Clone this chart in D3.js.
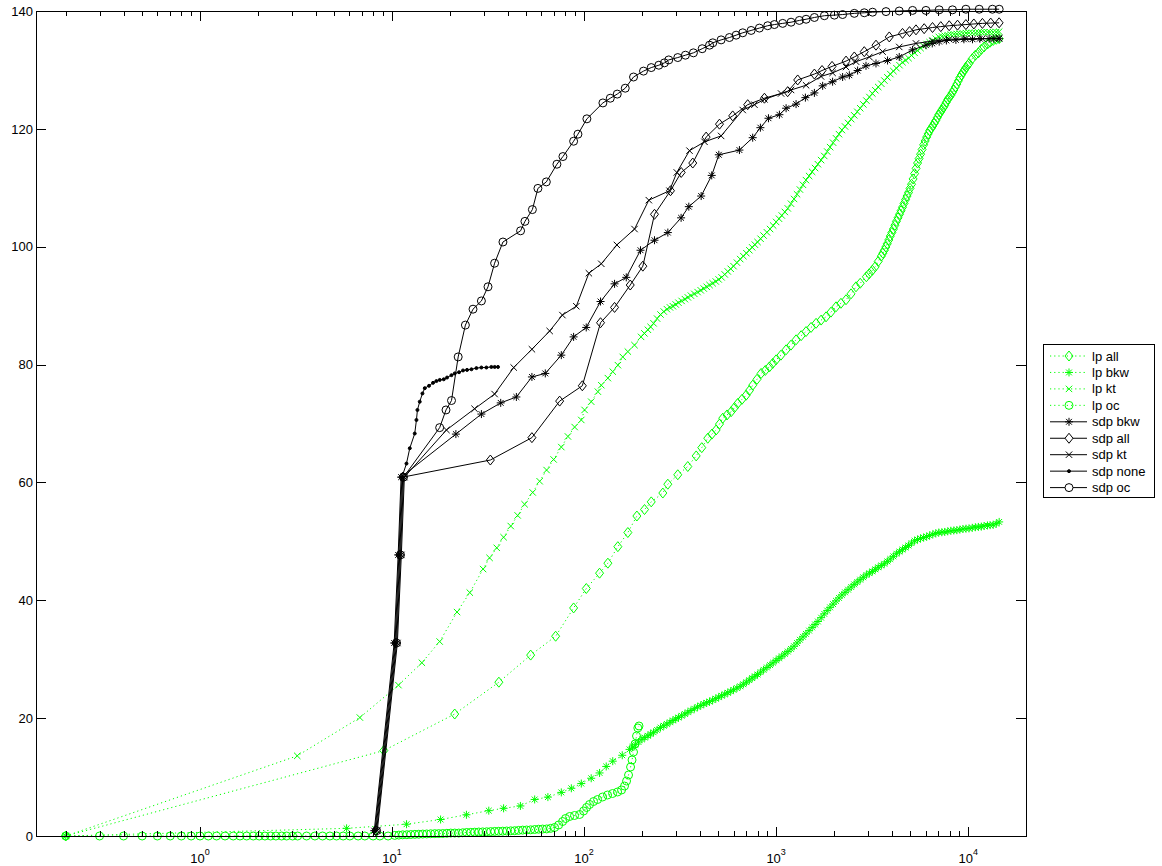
<!DOCTYPE html>
<html>
<head>
<meta charset="utf-8">
<script src="https://cdn.jsdelivr.net/npm/d3@7"></script>
<style>
  body { margin: 0; background: #fff; }
  svg { display: block; font-family: "Liberation Sans", Arial, Helvetica, sans-serif; }
</style>
</head>
<body>
<div id="chart"></div>
<script>
// ---- data: [x, value] pairs ----
const lpAll = [[0.2,0],[9.06,14.5],[21.2,20.7],[36.0,26.1],[52.7,30.7],[71.1,33.9],[88.2,38.7],[102.7,42.0],[120.4,44.6],[133.0,46.3],
  [149.9,49.1],[169.0,51.5],[188.3,54.3],[206.4,55.4],[223.7,56.7],[257,58.2],[272.9,59.7],[307.5,61.3],[346.7,62.7],[383.4,64.5],
  [410,65.9],[440.6,67.5],[463,68.2],[487.1,68.9],[507,69.9],[527.2,70.9],[555,71.45],[583.2,72.0],[607,72.7],[631,73.4],
  [664,74.1],[697.9,74.8],[726,75.6],[755.1,76.5],[795,77.5],[835.2,78.5],[878,79.0],[922.5,79.6],[960,80.2],[999.4,80.8],
  [1060,81.6],[1126,82.5],[1195,83.3],[1270,84.2],[1350,84.9],[1431,85.6],[1520,86.3],[1614,87.0],[1715,87.55],[1819,88.1],
  [1930,88.9],[2050,89.8],[2175,90.4],[2311,91.0],[2455,92.0],[2605,93.2],[2740,93.8],[2950,94.9],[3050,95.4],[3170,96.0],
  [3280,96.6],[3400,97.5],[3530,98.4],[3595,98.9],[3660,99.4],[3725,99.95],[3790,100.5],[3860,101.15],[3930,101.8],[4005,102.4],
  [4080,103.0],[4155,103.65],[4230,104.3],[4310,104.9],[4390,105.5],[4470,106.1],[4550,106.7],[4635,107.35],[4720,108.0],[4805,108.6],
  [4890,109.2],[4980,109.9],[5070,110.6],[5165,111.5],[5260,112.4],[5355,113.3],[5450,114.2],[5550,114.95],[5650,115.7],[5755,116.5],
  [5860,117.3],[5970,117.95],[6080,118.6],[6190,119.15],[6300,119.7],[6420,120.1],[6540,120.5],[6660,120.95],[6780,121.4],[6905,121.9],
  [7030,122.4],[7160,122.8],[7290,123.2],[7420,123.6],[7550,124.0],[7690,124.5],[7830,125.0],[7975,125.35],[8120,125.7],[8270,126.15],
  [8420,126.6],[8575,127.1],[8730,127.6],[8890,128.15],[9050,128.7],[9220,129.15],[9390,129.6],[9565,130.0],[9740,130.4],[9920,130.75],
  [10100,131.1],[10500,131.9],[10900,132.5],[11300,132.9],[11700,133.5],[12100,133.9],[12600,134.4],[13000,134.7],[13500,135.0],[14000,135.2],
  [14500,135.3]];

const lpBkw = [[0.2,0],[5.8,1.3],[11.9,2.0],[17.9,2.8],[24.4,3.6],[31.9,4.3],[38.1,4.7],[46.6,5.1],[55.3,6.2],[64.8,6.6],
  [76.1,7.4],[85.8,8.1],[96.7,8.9],[108.9,9.8],[120.4,10.7],[130.4,11.8],[141,12.7],[158,13.7],[172.5,14.7],[178.5,15.1],
  [185,15.5],[192,15.95],[200,16.4],[207,16.7],[215,17.0],[222,17.3],[230,17.6],[240,18.0],[250,18.4],[260,18.7],
  [270,19.0],[280,19.3],[290,19.6],[300,19.85],[310,20.1],[322,20.4],[335,20.7],[347,21.0],[360,21.3],[375,21.6],
  [390,21.9],[405,22.15],[420,22.4],[435,22.6],[450,22.8],[467,23.05],[485,23.3],[502,23.55],[520,23.8],[540,24.05],
  [560,24.3],[580,24.55],[600,24.8],[625,25.1],[650,25.4],[675,25.75],[700,26.1],[725,26.45],[750,26.8],[775,27.1],
  [800,27.4],[830,27.8],[860,28.2],[895,28.6],[930,29.0],[965,29.4],[1000,29.8],[1035,30.15],[1070,30.5],[1110,30.9],
  [1150,31.3],[1195,31.75],[1240,32.2],[1285,32.75],[1330,33.3],[1380,33.8],[1430,34.3],[1485,34.85],[1540,35.4],[1595,35.9],
  [1650,36.4],[1715,37.05],[1780,37.7],[1845,38.25],[1910,38.8],[1980,39.35],[2050,39.9],[2125,40.4],[2200,40.9],[2285,41.35],
  [2370,41.8],[2460,42.25],[2550,42.7],[2645,43.1],[2740,43.5],[2845,43.9],[2950,44.3],[3060,44.6],[3170,44.9],[3285,45.25],
  [3400,45.6],[3530,45.9],[3660,46.2],[3795,46.6],[3930,47.0],[4080,47.45],[4230,47.9],[4390,48.25],[4550,48.6],[4720,48.95],
  [4890,49.3],[5070,49.7],[5260,50.1],[5450,50.3],[5650,50.5],[5860,50.65],[6080,50.8],[6300,51.0],[6540,51.2],[6780,51.35],
  [7030,51.5],[7290,51.55],[7550,51.6],[7830,51.7],[8120,51.8],[8420,51.85],[8730,51.9],[9050,52.0],[9390,52.1],[9740,52.15],
  [10100,52.2],[10500,52.3],[10900,52.4],[11300,52.45],[11700,52.5],[12100,52.6],[12600,52.7],[13000,52.75],[13500,52.8],[14000,53.0],
  [14500,53.3]];

const lpKt = [[0.2,0],[3.21,13.6],[6.8,20.1],[10.8,25.6],[14.3,29.4],[17.7,33.0],[21.8,38.0],[25.4,41.3],[29.8,45.3],[32.2,47.2],
  [35.1,48.9],[38.1,50.7],[41.5,52.6],[45.1,54.4],[49.0,56.3],[54.0,58.3],[58.7,60.2],[63.8,62.1],[69.4,63.9],[76.1,66.0],
  [82.4,67.8],[89.3,69.4],[96.7,70.6],[100.6,72.3],[108.9,73.7],[118,75.4],[122.9,76.5],[133,77.7],[141,78.8],[150,79.9],
  [159,81.3],[169,82.2],[183,83.3],[198,84.7],[206,85.3],[215,85.9],[222,86.4],[230,87.0],[240,87.8],[250,88.5],
  [260,89.0],[270,89.4],[280,89.7],[290,89.9],[300,90.2],[310,90.5],[322,90.8],[335,91.1],[347,91.4],[360,91.7],
  [375,92.0],[390,92.3],[405,92.6],[420,92.9],[435,93.2],[450,93.5],[467,93.8],[485,94.1],[502,94.45],[520,94.8],
  [540,95.3],[560,95.8],[580,96.25],[600,96.7],[625,97.3],[650,97.9],[675,98.4],[700,98.9],[725,99.4],[750,99.9],
  [775,100.35],[800,100.8],[830,101.35],[860,101.9],[895,102.45],[930,103.0],[965,103.6],[1000,104.2],[1035,104.75],[1070,105.3],
  [1110,105.9],[1150,106.5],[1195,107.3],[1240,108.1],[1285,108.9],[1330,109.7],[1380,110.5],[1430,111.3],[1485,112.0],[1540,112.7],
  [1595,113.35],[1650,114.0],[1715,114.7],[1780,115.4],[1845,116.15],[1910,116.9],[1980,117.65],[2050,118.4],[2125,119.1],[2200,119.8],
  [2285,120.4],[2370,121.0],[2460,121.65],[2550,122.3],[2645,122.9],[2740,123.5],[2845,124.15],[2950,124.8],[3060,125.4],[3170,126.0],
  [3285,126.55],[3400,127.1],[3530,127.65],[3660,128.2],[3795,128.75],[3930,129.3],[4080,129.8],[4230,130.3],[4390,130.8],[4550,131.3],
  [4720,131.65],[4890,132.0],[5070,132.45],[5260,132.9],[5450,133.3],[5650,133.7],[5860,134.05],[6080,134.4],[6300,134.7],[6540,135.0],
  [6780,135.3],[7030,135.6],[7290,135.7],[7550,135.8],[7830,135.9],[8120,136.0],[8420,136.05],[8730,136.1],[9050,136.15],[9390,136.2],
  [9740,136.25],[10100,136.3],[10500,136.3],[10900,136.3],[11300,136.35],[11700,136.4],[12100,136.4],[12600,136.4],[13000,136.4],[13500,136.4],
  [14000,136.45],[14500,136.5]];

const lpOc = [[0.2,0],[0.3,0],[0.4,0],[0.5,0],[0.6,0],[0.7,0],[0.8,0],[0.9,0],[1.0,0],[1.105,0],
  [1.22,0],[1.35,0],[1.49,0],[1.615,0],[1.75,0],[1.894,0],[2.035,0],[2.178,0],[2.332,0],[2.485,0],
  [2.661,0],[2.825,0],[3.035,0],[3.223,0],[3.589,0],[3.966,0],[4.347,0],[4.746,0],[5.14,0],[5.566,0],
  [6.028,0],[6.66,0],[7.216,0],[7.97,0],[8.638,0],[9.539,0],[10.33,0.1],[10.85,0.15],[11.37,0.2],[11.95,0.22],
  [12.52,0.25],[13.15,0.28],[13.78,0.3],[14.45,0.33],[15.16,0.35],[15.9,0.38],[16.69,0.4],[17.5,0.41],[18.37,0.42],[19.3,0.46],
  [20.21,0.5],[21.2,0.5],[22.25,0.5],[23.35,0.55],[24.48,0.6],[25.7,0.62],[26.94,0.65],[28.3,0.68],[29.65,0.7],[31.1,0.72],
  [32.63,0.75],[34.25,0.78],[35.92,0.8],[37.7,0.82],[39.53,0.85],[41.5,0.88],[43.5,0.9],[45.6,0.95],[47.87,1.0],[50.2,1.02],
  [52.68,1.05],[55.3,1.1],[57.98,1.15],[60.8,1.18],[63.83,1.2],[67.0,1.3],[70.24,1.45],[73.7,1.87],[77.3,2.46],[80.1,2.97],
  [84.1,3.31],[89.2,3.48],[94.8,3.65],[99.4,4.24],[103,4.84],[106.8,5.35],[112,5.85],[117.6,6.19],[124.8,6.62],[132.5,6.96],
  [140.7,7.21],[149.4,7.47],[156.7,7.81],[162.4,8.48],[166.4,9.33],[170.4,10.35],[174.6,11.71],[177.7,12.9],[180.9,14.25],[184.2,15.61],
  [187.5,16.97],[190.5,18.33],[193.2,18.67]];

const sdpBkw = [[8.08,0.9],[10.26,32.75],[10.76,47.7],[11.15,60.9],[21.5,68.2],[29.2,71.6],[36.8,73.5],[44.4,74.5],[53.5,77.9],[62.8,78.5],
  [76.1,81.6],[88.2,84.7],[102.6,86.3],[121.8,90.7],[144.1,93.7],[165.8,94.8],[196.7,99.4],[232.6,101.1],[273,102.4],[320,104.9],
  [351,106.8],[407,108.6],[462,112.1],[503,115.6],[644,116.4],[755,118.5],[828,120.2],[912,121.8],[1040,122.4],[1127,123.5],
  [1270,124.2],[1420,125.3],[1582,126.1],[1747,127.3],[1968,128.0],[2219,128.8],[2405,129.1],[2656,129.9],[2937,130.7],[3311,131.1],
  [3803,131.6],[4375,132.2],[5133,133.4],[6026,134.2],[6500,134.5],[7063,134.8],[7700,135.0],[8630,135.1],[9500,135.2],[10530,135.2],
  [11500,135.3],[12850,135.3],[13600,135.3],[14500,135.3]];

const sdpAll = [[8.23,0.9],[10.46,32.75],[10.97,47.7],[11.37,60.9],[32.5,63.8],[53.5,67.6],[74.6,73.8],[97.9,76.4],[121.8,87.1],[144.1,89.7],
  [173.9,93.5],[202.3,96.7],[232.6,105.5],[281.8,109.5],[320.3,112.6],[368,114.2],[432,118.6],[507,120.8],[594,122.2],[711,124.1],
  [869,125.2],[1148,126.3],[1295,128.3],[1582,129.3],[1734,129.9],[1955,130.6],[2312,131.5],[2553,132.2],[2877,133.1],[3311,134.2],
  [3882,135.6],[4550,136.2],[4950,136.5],[5347,136.8],[5900,137.0],[6521,137.2],[7200,137.35],[7965,137.5],[8800,137.6],[9727,137.7],
  [10700,137.8],[11860,137.9],[13100,137.95],[14490,138.0]];

const sdpKt = [[8.38,0.9],[10.66,32.75],[11.18,47.7],[11.59,60.9],[19.2,68.9],[26.9,72.5],[34.2,75.0],[43.0,79.5],[53.5,82.6],[66.2,85.7],
  [77.1,88.4],[91.1,89.9],[105.9,95.5],[122.9,97.1],[148.2,100.3],[183.1,103.0],[217.3,107.9],[278.5,109.5],[304,112.6],[353.9,116.3],
  [423.6,117.8],[517,118.8],[670,123.2],[771,124.1],[869,125.0],[1061,126.0],[1196,126.6],[1432,127.4],[1713,128.9],[1968,129.5],
  [2312,130.5],[2607,131.4],[3056,132.2],[3584,133.1],[4375,133.9],[5347,134.5],[6521,134.9],[7965,135.2],[9727,135.3],[11860,135.3],
  [14500,135.4]];

const sdpNone = [[8.15,0.9],[10.36,32.75],[10.86,47.7],[11.26,60.9],[11.89,63.2],[12.37,65.8],[13.13,68.3],[13.40,70.6],[13.56,72.3],[13.94,73.7],
  [14.40,75.1],[14.81,76.0],[15.58,76.4],[16.35,76.9],[17.02,77.2],[17.72,77.4],[18.59,77.5],[19.34,77.8],[20.39,78.2],[21.21,78.5],
  [22.33,78.7],[23.42,79.0],[24.58,79.1],[25.91,79.2],[27.50,79.4],[29.19,79.5],[30.99,79.5],[32.90,79.6],[34.23,79.6],[35.62,79.6]];

const sdpOc = [[8.31,0.9],[10.56,32.75],[11.07,47.7],[11.48,60.9],[17.7,69.3],[19.1,72.3],[20.4,73.9],[22.1,81.3],[24.1,86.7],[26.4,89.4],
  [29.2,90.8],[31.6,93.2],[34.2,97.2],[37.8,100.8],[46.7,102.7],[49.2,104.3],[53.8,106.3],[57.5,109.9],[63.6,111.0],[72.2,114.0],
  [77.6,115.3],[88.2,117.9],[92.9,119.1],[103.4,121.7],[125.3,124.4],[136.9,125.2],[148.8,125.9],[163.8,126.9],[180.9,128.8],[203.9,129.8],
  [223.7,130.4],[245,130.8],[262,131.2],[276,131.7],[307.5,132.1],[337,132.5],[371,132.9],[412,133.6],[450,134.2],[468,134.6],
  [517,135.1],[571,135.5],[619,135.9],[670,136.3],[741,136.7],[818,137.1],[904,137.5],[979,137.7],[1082,137.9],[1196,138.1],
  [1321,138.4],[1432,138.6],[1582,138.9],[1783,139.2],[2010,139.3],[2219,139.4],[2553,139.6],[2877,139.7],[3178,139.8],[3733,139.9],
  [4375,140.0],[5133,140.1],[6026,140.1],[7063,140.2],[8284,140.2],[9727,140.3],[11410,140.3],[13370,140.3],[14500,140.3]];

const yTicks = [0, 20, 40, 60, 80, 100, 120, 140];
const xMajor = [1, 10, 100, 1000, 10000];
const xExp = ["0", "1", "2", "3", "4"];
const xMinor = [0.2,0.3,0.4,0.5,0.6,0.7,0.8,0.9, 2,3,4,5,6,7,8,9, 20,30,40,50,60,70,80,90,
  200,300,400,500,600,700,800,900, 2000,3000,4000,5000,6000,7000,8000,9000];

const seriesNames = ["lp all", "lp bkw", "lp kt", "lp oc", "sdp bkw", "sdp all", "sdp kt", "sdp none", "sdp oc"];
const seriesData  = [lpAll, lpBkw, lpKt, lpOc, sdpBkw, sdpAll, sdpKt, sdpNone, sdpOc];
const seriesMark  = ["diamond", "star", "cross", "circle", "star", "diamond", "cross", "dot", "circle"];

// ---- layout ----
const W = 1162, H = 866;
const plot = {left: 36, right: 1026, top: 11, bottom: 836};
const GREEN = "#00ff00";

const svg = d3.select("#chart").append("svg")
  .attr("width", W).attr("height", H);

const x = d3.scaleLog().domain([0.14, 20000]).range([plot.left, plot.right]);
const y = d3.scaleLinear().domain([0, 140]).range([plot.bottom, plot.top]);

// marker shapes (matlab style)
const shapes = {
  diamond: {draw(c) { c.moveTo(0,-5); c.lineTo(4,0); c.lineTo(0,5); c.lineTo(-4,0); c.closePath(); }},
  circle:  {draw(c) { c.moveTo(4,0); c.arc(0,0,4,0,2*Math.PI); }},
  cross:   {draw(c) { const r=3.2; c.moveTo(-r,-r); c.lineTo(r,r); c.moveTo(r,-r); c.lineTo(-r,r); }},
  star:    {draw(c) { const r=4, d=2.9; c.moveTo(0,-r); c.lineTo(0,r); c.moveTo(-r,0); c.lineTo(r,0);
                      c.moveTo(-d,-d); c.lineTo(d,d); c.moveTo(d,-d); c.lineTo(-d,d); }},
  dot:     {draw(c) { c.moveTo(1.5,0); c.arc(0,0,1.5,0,2*Math.PI); }}
};
const markPath = name => d3.symbol().type(shapes[name]).size(1)();

function styleOf(i) {
  const lp = seriesNames[i].startsWith("lp");
  return { color: lp ? GREEN : "#000", dash: lp ? "1.2,3" : null };
}

// ---- series ----
const line = d3.line().x(d => x(d[0])).y(d => y(d[1]));
const gData = svg.append("g");

seriesData.forEach((data, i) => {
  const st = styleOf(i);
  const g = gData.append("g").attr("class", "series");
  g.append("path")
    .attr("d", line(data))
    .attr("fill", "none")
    .attr("stroke", st.color)
    .attr("stroke-width", 1)
    .attr("stroke-dasharray", st.dash);
  g.selectAll("path.mk").data(data).join("path")
    .attr("class", "mk")
    .attr("transform", d => `translate(${x(d[0])},${y(d[1])})`)
    .attr("d", markPath(seriesMark[i]))
    .attr("fill", seriesMark[i] === "dot" ? st.color : "none")
    .attr("stroke", st.color)
    .attr("stroke-width", 1);
});

// ---- axes (ticks point inward, box all round) ----
const allX = xMajor.concat(xMinor);
const tickLen = d => xMajor.includes(d) ? 9.5 : 5;

const gx = svg.append("g").attr("transform", `translate(0,${plot.bottom})`)
  .call(d3.axisBottom(x).tickValues(allX).tickFormat(""));
gx.selectAll(".tick line").attr("y2", d => -tickLen(d));

const gxTop = svg.append("g").attr("transform", `translate(0,${plot.top})`)
  .call(d3.axisTop(x).tickValues(allX).tickFormat(""));
gxTop.selectAll(".tick line").attr("y2", d => tickLen(d));

const gy = svg.append("g").attr("transform", `translate(${plot.left},0)`)
  .call(d3.axisLeft(y).tickValues(yTicks).tickSize(-10).tickPadding(3));
const gyR = svg.append("g").attr("transform", `translate(${plot.right},0)`)
  .call(d3.axisRight(y).tickValues(yTicks).tickSize(-10).tickFormat(""));

svg.selectAll(".domain").remove();
svg.selectAll(".tick line").attr("stroke", "#000").attr("shape-rendering", "crispEdges");
gy.selectAll(".tick text")
  .attr("font-size", 13).attr("font-family", null).attr("fill", "#000");

svg.append("rect")
  .attr("x", plot.left).attr("y", plot.top)
  .attr("width", plot.right - plot.left).attr("height", plot.bottom - plot.top)
  .attr("fill", "none").attr("stroke", "#000").attr("shape-rendering", "crispEdges");

// x labels as 10^n
const xl = svg.append("g").selectAll("text").data(xMajor).join("text")
  .attr("x", d => x(d)).attr("y", 863)
  .attr("text-anchor", "middle").attr("font-size", 13).attr("fill", "#000");
xl.append("tspan").text("10");
xl.append("tspan").attr("dy", -8).attr("font-size", 9).text((d, i) => xExp[i]);

// ---- legend ----
const leg = svg.append("g");
leg.append("rect")
  .attr("x", 1043.5).attr("y", 344.5).attr("width", 111).attr("height", 153)
  .attr("fill", "#fff").attr("stroke", "#000");
const rowY = i => 356 + i * 16.45;
seriesNames.forEach((name, i) => {
  const st = styleOf(i);
  const r = leg.append("g").attr("transform", `translate(0,${rowY(i)})`);
  r.append("line").attr("x1", 1050).attr("x2", 1087).attr("y1", 0).attr("y2", 0)
    .attr("stroke", st.color).attr("stroke-dasharray", st.dash);
  r.append("path").attr("transform", "translate(1069,0)")
    .attr("d", markPath(seriesMark[i]))
    .attr("fill", seriesMark[i] === "dot" ? st.color : (st.dash ? "none" : "#fff"))
    .attr("stroke", st.color);
  r.append("text").attr("x", 1092).attr("y", 0).attr("dy", "0.35em")
    .attr("font-size", 13).attr("fill", "#000").text(name);
});
</script>
</body>
</html>
